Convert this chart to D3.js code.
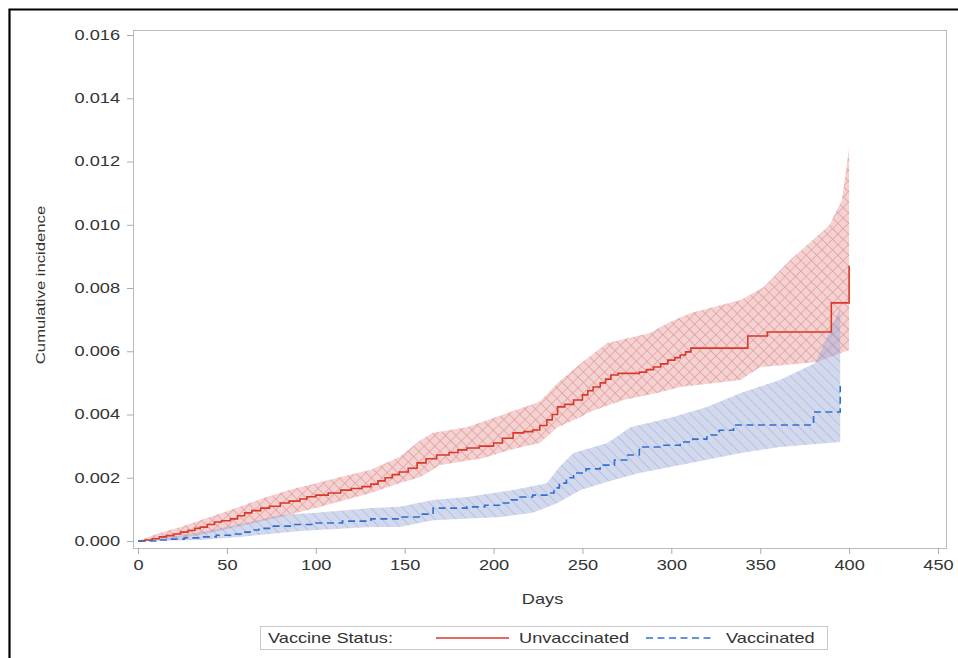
<!DOCTYPE html>
<html>
<head>
<meta charset="utf-8">
<script src="https://cdn.jsdelivr.net/npm/d3@7"></script>
<style>
  html, body { margin: 0; padding: 0; background: #fff; }
  svg { display: block; }
  text { font-family: "Liberation Sans", Arial, sans-serif; fill: #333; }
</style>
</head>
<body>
<svg id="chart" width="958" height="658"></svg>
<script>
// ---------------- data ----------------
const xTicks = [0, 50, 100, 150, 200, 250, 300, 350, 400, 450];
const yTicks = [0, 0.002, 0.004, 0.006, 0.008, 0.010, 0.012, 0.014, 0.016];
const seriesNames = ["Unvaccinated", "Vaccinated"];
const legendTitle = "Vaccine Status:";
const xTitle = "Days";
const yTitle = "Cumulative incidence";

// Unvaccinated cumulative incidence (step curve)
const unvaxDays = [0,4,8,12,16,20,24,28,32,35,39,43,47,52,56,60,64,69,74,80,85,91,95,100,107,114,120,126,131,135,139,143,147,152,157,162,168,175,180,185,192,200,205,211,217,222,226,230,233,236,240,245,250,253,256,260,263,266,270,282,286,290,294,298,302,305,308,311,343,354,390,400];
const unvaxCI   = [0,0.00003,0.00007,0.00013,0.00017,0.00022,0.00028,0.00033,0.0004,0.00044,0.00052,0.0006,0.00064,0.0007,0.0008,0.00089,0.00096,0.00104,0.0011,0.0012,0.00126,0.00133,0.0014,0.00145,0.00152,0.00161,0.00166,0.00172,0.0018,0.0019,0.002,0.0021,0.00218,0.0023,0.00247,0.0026,0.00272,0.0028,0.00288,0.00294,0.003,0.0031,0.00325,0.00342,0.00346,0.00351,0.00365,0.00383,0.004,0.00424,0.00432,0.00446,0.00462,0.00475,0.00487,0.005,0.00512,0.00525,0.0053,0.00534,0.00542,0.0055,0.0056,0.00572,0.0058,0.00588,0.00598,0.0061,0.00648,0.00661,0.00753,0.0087];
// Unvaccinated confidence band
const unvaxUpDays = [0,12,24,35,52,69,85,100,114,131,147,159,166,185,208,226,236,250,264,288,298,311,339,352,367,389,396,400];
const unvaxUpVals = [0,0.00025,0.00044,0.00066,0.00098,0.00133,0.00161,0.00183,0.00202,0.00225,0.00266,0.00319,0.00342,0.0036,0.00405,0.0044,0.005,0.00566,0.00626,0.00658,0.00689,0.00721,0.00762,0.00803,0.00889,0.00999,0.0108,0.01243];
const unvaxLoDays = [0,24,35,63,80,100,131,147,159,170,194,209,226,236,249,254,273,292,305,339,350,382,400];
const unvaxLoVals = [0,0.0001,0.00019,0.00054,0.00076,0.00104,0.00152,0.00183,0.00202,0.0024,0.00262,0.00288,0.0031,0.0036,0.00392,0.00408,0.00446,0.00468,0.00487,0.00509,0.0055,0.00566,0.00604];

// Vaccinated cumulative incidence (step curve)
const vaxDays = [0,10,18,26,35,44,52,58,63,68,74,87,100,115,131,147,160,166,185,195,204,210,215,222,230,234,237,241,245,252,260,268,275,282,295,305,312,320,327,335,380,395];
const vaxCI   = [0,0.00003,0.00006,0.0001,0.00013,0.00018,0.00022,0.00028,0.00035,0.0004,0.00047,0.00052,0.00057,0.00063,0.0007,0.00076,0.00085,0.00104,0.00108,0.00113,0.0012,0.0013,0.00139,0.00145,0.00152,0.00168,0.00183,0.002,0.00215,0.00228,0.0024,0.00256,0.00272,0.00297,0.00303,0.00313,0.00322,0.00335,0.0035,0.00367,0.00408,0.0049];
// Vaccinated confidence band
const vaxUpDays = [0,18,35,63,80,100,131,147,166,185,211,230,237,245,264,277,301,320,339,361,381,395];
const vaxUpVals = [0,0.00013,0.00028,0.0006,0.00082,0.00089,0.00104,0.00108,0.0013,0.00139,0.00161,0.00183,0.00234,0.00278,0.0031,0.0036,0.00392,0.00424,0.00468,0.00509,0.00563,0.00737];
const vaxLoDays = [0,35,63,91,131,147,166,204,222,236,249,264,282,311,339,361,395];
const vaxLoVals = [0,0.00003,0.00016,0.00032,0.00044,0.00044,0.00066,0.00076,0.00089,0.0012,0.00161,0.00187,0.00215,0.00247,0.00278,0.00297,0.00313];

// ---------------- layout ----------------
const svg = d3.select("#chart");
const frame = {left: 133, right: 946, top: 30, bottom: 548};
const x = d3.scaleLinear().domain([0, 450]).range([138, 938]);
const y = d3.scaleLinear().domain([0, 0.016]).range([541, 35]);
const SX = 1.3; // text horizontal stretch to mimic the original font

// outer black border (partial, as in original)
svg.append("path")
  .attr("d", "M9.5,658 L9.5,9.5 L958,9.5")
  .attr("fill", "none").attr("stroke", "#000").attr("stroke-width", 2.2);

// patterns
const defs = svg.append("defs");
const pr = defs.append("pattern").attr("id", "hatchRed")
  .attr("patternUnits", "userSpaceOnUse").attr("width", 7.5).attr("height", 7.5)
  .attr("patternTransform", "rotate(45)");
pr.append("rect").attr("width", 7.5).attr("height", 7.5).attr("fill", "rgba(230,148,148,0.42)");
pr.append("path").attr("d", "M0,0 L0,7.5 M0,0 L7.5,0")
  .attr("stroke", "rgba(200,90,90,0.5)").attr("stroke-width", 1.2);

const pb = defs.append("pattern").attr("id", "hatchBlue")
  .attr("patternUnits", "userSpaceOnUse").attr("width", 7.5).attr("height", 7.5)
  .attr("patternTransform", "rotate(-45)");
pb.append("rect").attr("width", 7.5).attr("height", 7.5).attr("fill", "rgba(158,170,215,0.45)");
pb.append("path").attr("d", "M0,0 L0,7.5")
  .attr("stroke", "rgba(115,130,195,0.5)").attr("stroke-width", 1.2);

// frame
svg.append("rect")
  .attr("x", frame.left + 0.5).attr("y", frame.top + 0.5)
  .attr("width", frame.right - frame.left).attr("height", frame.bottom - frame.top)
  .attr("fill", "none").attr("stroke", "#b8bcc0").attr("stroke-width", 1);

// bands
function bandPath(upD, upV, loD, loV) {
  const pts = upD.map((d, i) => [d, upV[i]]);
  const lo = loD.map((d, i) => [d, loV[i]]).reverse();
  return d3.line().x(p => x(p[0])).y(p => y(p[1]))(pts.concat(lo)) + "Z";
}
svg.append("path").attr("d", bandPath(unvaxUpDays, unvaxUpVals, unvaxLoDays, unvaxLoVals))
  .attr("fill", "url(#hatchRed)").attr("stroke", "none");
svg.append("path").attr("d", bandPath(vaxUpDays, vaxUpVals, vaxLoDays, vaxLoVals))
  .attr("fill", "url(#hatchBlue)").attr("stroke", "none");

// lines
const stepLine = d3.line().x(p => x(p[0])).y(p => y(p[1])).curve(d3.curveStepAfter);
svg.append("path").attr("d", stepLine(unvaxDays.map((d, i) => [d, unvaxCI[i]])))
  .attr("fill", "none").attr("stroke", "#d8392b").attr("stroke-width", 1.6);
svg.append("path").attr("d", stepLine(vaxDays.map((d, i) => [d, vaxCI[i]])))
  .attr("fill", "none").attr("stroke", "#2f6fcf").attr("stroke-width", 1.6)
  .attr("stroke-dasharray", "7,4.5");

// axes
const yAxis = svg.append("g").attr("transform", `translate(${frame.left},0)`)
  .call(d3.axisLeft(y).tickValues(yTicks).tickFormat(d3.format(".3f")).tickSize(6).tickPadding(7));
const xAxis = svg.append("g").attr("transform", `translate(0,${frame.bottom})`)
  .call(d3.axisBottom(x).tickValues(xTicks).tickFormat(d3.format("d")).tickSize(6).tickPadding(6));
[yAxis, xAxis].forEach(g => {
  g.select(".domain").remove();
  g.selectAll(".tick line").attr("stroke", "#a8acb0");
  g.selectAll(".tick text").attr("font-size", 14).attr("fill", "#333")
    .style("font-family", '"Liberation Sans", Arial, sans-serif');
});
yAxis.selectAll(".tick text").each(function () {
  const t = d3.select(this);
  const tx = +t.attr("x");
  t.attr("x", 0).attr("transform", `translate(${tx},0) scale(${SX},1)`);
});
xAxis.selectAll(".tick text").attr("transform", `scale(${SX},1)`);

// axis titles
svg.append("text")
  .attr("transform", `translate(${(frame.left + frame.right) / 2 + 3},604) scale(${SX},1)`)
  .attr("text-anchor", "middle").attr("font-size", 14).text(xTitle);
svg.append("text")
  .attr("transform", `translate(45,${(frame.top + frame.bottom) / 2 - 4}) rotate(-90) scale(${SX * 0.95},1)`)
  .attr("text-anchor", "middle").attr("font-size", 13.5).text(yTitle);

// legend
const lg = svg.append("g");
lg.append("rect").attr("x", 260.5).attr("y", 626.5).attr("width", 567).attr("height", 23)
  .attr("fill", "#fff").attr("stroke", "#c8c8c8");
lg.append("text").attr("transform", `translate(268,643) scale(${SX},1)`).attr("font-size", 14).text(legendTitle);
lg.append("line").attr("x1", 436).attr("x2", 509).attr("y1", 638).attr("y2", 638)
  .attr("stroke", "#d8392b").attr("stroke-width", 1.6);
lg.append("text").attr("transform", `translate(519,643) scale(${SX},1)`).attr("font-size", 14).text(seriesNames[0]);
lg.append("line").attr("x1", 646).attr("x2", 715).attr("y1", 638).attr("y2", 638)
  .attr("stroke", "#2f6fcf").attr("stroke-width", 1.6).attr("stroke-dasharray", "7,4.5");
lg.append("text").attr("transform", `translate(726,643) scale(${SX},1)`).attr("font-size", 14).text(seriesNames[1]);
</script>
</body>
</html>
